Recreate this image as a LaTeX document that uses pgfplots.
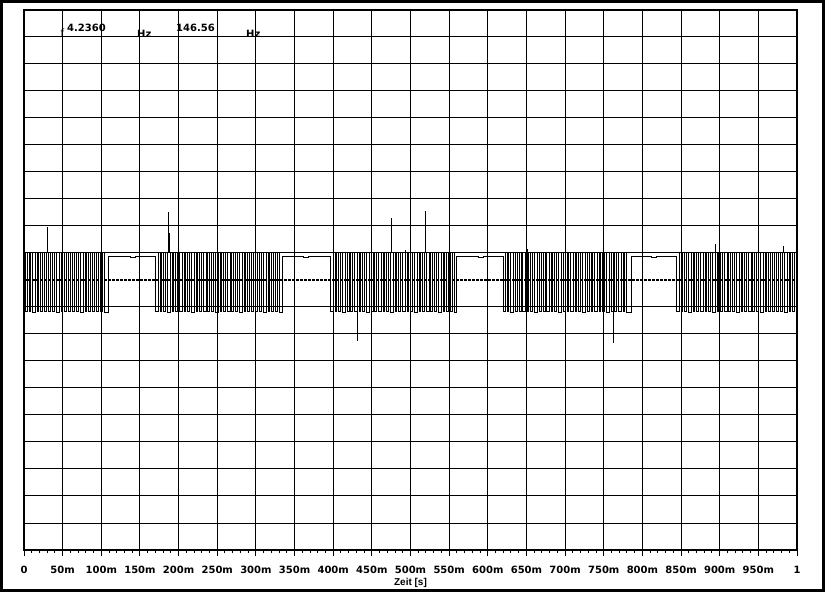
\documentclass[border=0pt]{standalone}
\usepackage{pgfplots}
\pgfplotsset{compat=1.18}
\usepackage{fontspec}
\setmainfont{DejaVu Sans}
\newfontfamily\dvs{DejaVu Sans}
\newfontfamily\lib{Liberation Sans}
\begin{document}
\begin{tikzpicture}
\useasboundingbox (0,0) rectangle (825pt,592pt);
\fill[white] (0,0) rectangle (825pt,592pt);
\begin{axis}[
  at={(24pt,42pt)}, anchor=south west,
  width=773pt, height=540pt, scale only axis,
  xmin=0, xmax=1000, ymin=0, ymax=20,
  xtick={0,50,...,1000},
  xticklabels={0,50m,100m,150m,200m,250m,300m,350m,400m,450m,500m,550m,600m,650m,700m,750m,800m,850m,900m,950m,1},
  minor x tick num=4,
  xtick pos=bottom, tick align=outside,
  major tick length=6pt, minor tick length=3pt,
  xtick style={black, line width=1pt},
  ytick={0,1,2,3,4,5,6,7,8,9,11,12,13,14,15,16,17,18,19,20},
  yticklabels={,,,,,,,,,,,,,,,,,,,,,},
  ytick style={draw=none},
  grid=major, major grid style={black, line width=1pt},
  axis line style={black, line width=1.1pt},
  xticklabel style={font=\dvs\bfseries\fontsize{10}{12}\selectfont, anchor=base, yshift=-17.5pt, inner sep=0pt},
]
% channel 1: pulse trains
\addplot[black, line width=1pt, const plot, mark=none] coordinates {
(0,11) (2,8.83) (4.5,11) (7,8.83) (9,11) (11.5,8.78) (15,11) (17,8.83) (19,11) (21.5,8.83) (24,11) (26.5,8.83) (29.5,11) (32,8.83) (34,11) (36.5,8.83) (39,11) (41.5,8.78) (45.5,11) (48,8.83) (50,11) (52.5,8.83) (55,11) (57.5,8.83) (60.5,11) (63,8.83) (65,11) (67.5,8.83) (70,11) (72.5,8.78) (76.5,11) (79,8.83) (81,11) (83.5,8.83) (86,11) (88.5,8.83) (91.5,11) (94,8.83) (96,11) (98.5,8.83) (101,11) (103.5,8.78) (109.5,10.88) (138,10.84) (144,10.88)
(170,8.83) (173.5,11) (176,8.83) (178,11) (180.5,8.83) (183,11) (185.5,8.78) (189.5,11) (192,8.83) (194,11) (196.5,8.83) (199,11) (201.5,8.83) (204.5,11) (207,8.83) (209,11) (211.5,8.83) (214,11) (216.5,8.78) (220.5,11) (223,8.83) (225,11) (227.5,8.83) (230,11) (232.5,8.83) (235.5,11) (238,8.83) (240,11) (242.5,8.83) (245,11) (247.5,8.78) (251.5,11) (254,8.83) (256,11) (258.5,8.83) (261,11) (263.5,8.83) (266.5,11) (269,8.83) (271,11) (273.5,8.83) (276,11) (278.5,8.78) (282.5,11) (285,8.83) (287,11) (289.5,8.83) (292,11) (294.5,8.83) (297.5,11) (300,8.83) (302,11) (304.5,8.83) (307,11) (309.5,8.78) (313.5,11) (316,8.83) (318,11) (320.5,8.83) (323,11) (325.5,8.83) (328.5,11) (331,8.78) (335,10.88) (362,10.84) (368,10.88)
(397,8.83) (400,11) (402.5,8.83) (404.5,11) (407,8.83) (409.5,11) (412,8.78) (416,11) (418.5,8.83) (420.5,11) (423,8.83) (425.5,11) (428,8.83) (431,11) (433.5,8.83) (435.5,11) (438,8.83) (440.5,11) (443,8.78) (447,11) (449.5,8.83) (451.5,11) (454,8.83) (456.5,11) (459,8.83) (462,11) (464.5,8.83) (466.5,11) (469,8.83) (471.5,11) (474,8.78) (478,11) (480.5,8.83) (482.5,11) (485,8.83) (487.5,11) (490,8.83) (493,11) (495.5,8.83) (497.5,11) (500,8.83) (502.5,11) (505,8.78) (509,11) (511.5,8.83) (513.5,11) (516,8.83) (518.5,11) (521,8.83) (524,11) (526.5,8.83) (528.5,11) (531,8.83) (533.5,11) (536,8.78) (540,11) (542.5,8.83) (544.5,11) (547,8.83) (549.5,11) (552,8.83) (554.5,11) (556.5,8.78) (560,10.88) (588,10.84) (594,10.88)
(620,8.83) (622.5,11) (625,8.83) (627,11) (629.5,8.78) (633.5,11) (636,8.83) (638,11) (640.5,8.83) (643,11) (645.5,8.83) (648.5,11) (651,8.83) (653,11) (655.5,8.83) (658,11) (660.5,8.78) (664.5,11) (667,8.83) (669,11) (671.5,8.83) (674,11) (676.5,8.83) (679.5,11) (682,8.83) (684,11) (686.5,8.83) (689,11) (691.5,8.78) (695.5,11) (698,8.83) (700,11) (702.5,8.83) (705,11) (707.5,8.83) (710.5,11) (713,8.83) (715,11) (717.5,8.83) (720,11) (722.5,8.78) (726.5,11) (729,8.83) (731,11) (733.5,8.83) (736,11) (738.5,8.83) (741.5,11) (744,8.83) (746,11) (748.5,8.83) (751,11) (753.5,8.78) (757.5,11) (760,8.83) (762,11) (764.5,8.83) (767,11) (769.5,8.83) (772.5,11) (775,8.83) (777,11) (779.5,8.78) (786,10.88) (812,10.84) (818,10.88)
(844,8.83) (847.5,11) (850,8.83) (852,11) (854.5,8.83) (857,11) (859.5,8.78) (863.5,11) (866,8.83) (868,11) (870.5,8.83) (873,11) (875.5,8.83) (878.5,11) (881,8.83) (883,11) (885.5,8.83) (888,11) (890.5,8.78) (894.5,11) (897,8.83) (899,11) (901.5,8.83) (904,11) (906.5,8.83) (909.5,11) (912,8.83) (914,11) (916.5,8.83) (919,11) (921.5,8.78) (925.5,11) (928,8.83) (930,11) (932.5,8.83) (935,11) (937.5,8.83) (940.5,11) (943,8.83) (945,11) (947.5,8.83) (950,11) (952.5,8.78) (956.5,11) (959,8.83) (961,11) (963.5,8.83) (966,11) (968.5,8.83) (971.5,11) (974,8.83) (976,11) (978.5,8.83) (981,11) (983.5,8.78) (987.5,11) (990,8.83) (992,11) (994.5,8.83) (997,11) (1000,11)
};
% spikes
\addplot[black, line width=1pt, unbounded coords=jump, mark=none] coordinates {
(30,11) (30,11.96) (30,nan)
(187,11) (187,12.52) (187,nan)
(188.5,11) (188.5,11.75) (188.5,nan)
(432,8.83) (432,7.74) (432,nan)
(475,11) (475,12.3) (475,nan)
(476,11) (476,11.74) (476,nan)
(519,11) (519,12.56) (519,nan)
(520,11) (520,11.7) (520,nan)
(763,8.83) (763,7.67) (763,nan)
(895,11) (895,11.33) (895,nan)
(982,11) (982,11.26) (982,nan)
(651,11) (651,11.15) (651,nan)
(493,11) (493,11.1)
};
% channel 2: constant level
\addplot[black, line width=1.2pt, dash pattern=on 2.5pt off 1.5pt, mark=none] coordinates {(0,10) (1000,10)};
\end{axis}
\node[anchor=base west, inner sep=0pt, font=\dvs\fontsize{10}{12}\selectfont] at (60.5pt,555pt) {f};
\node[anchor=base west, inner sep=0pt, font=\dvs\bfseries\fontsize{10}{12}\selectfont] at (67pt,560pt) {4.2360};
\node[anchor=base west, inner sep=0pt, font=\dvs\bfseries\fontsize{10}{12}\selectfont] at (137pt,554pt) {Hz};
\node[anchor=base west, inner sep=0pt, font=\dvs\bfseries\fontsize{10}{12}\selectfont] at (176pt,560pt) {146.56};
\node[anchor=base west, inner sep=0pt, font=\dvs\bfseries\fontsize{10}{12}\selectfont] at (246pt,554pt) {Hz};
\node[anchor=base, inner sep=0pt, font=\lib\bfseries\fontsize{10}{12}\selectfont] at (410.5pt,6.5pt) {Zeit [s]};
\draw[black, line width=3pt] (1.5pt,1.5pt) rectangle (823.5pt,590.5pt);
\end{tikzpicture}
\end{document}
